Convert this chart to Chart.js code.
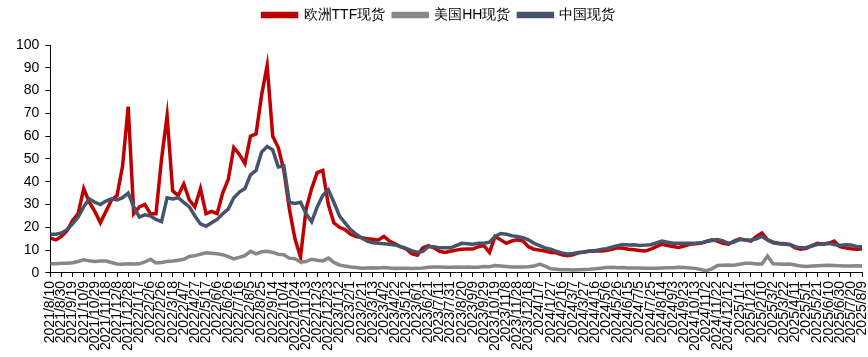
<!DOCTYPE html>
<html><head><meta charset="utf-8">
<script src="https://cdn.jsdelivr.net/npm/chart.js@4/dist/chart.umd.min.js"></script>
<style>html,body{margin:0;padding:0;background:#fff;}canvas{display:block;}</style>
</head><body>
<canvas id="c" width="868" height="357"></canvas>
<script>
// tick labels (every 20 days)
const tickLabels = ["2021/8/10","2021/8/30","2021/9/19","2021/10/9","2021/10/29","2021/11/18","2021/12/8","2021/12/28","2022/1/17","2022/2/6","2022/2/26","2022/3/18","2022/4/7","2022/4/27","2022/5/17","2022/6/6","2022/6/26","2022/7/16","2022/8/5","2022/8/25","2022/9/14","2022/10/4","2022/10/24","2022/11/13","2022/12/3","2022/12/23","2023/1/12","2023/2/1","2023/2/21","2023/3/13","2023/4/2","2023/4/22","2023/5/12","2023/6/1","2023/6/21","2023/7/11","2023/7/31","2023/8/20","2023/9/9","2023/9/29","2023/10/19","2023/11/8","2023/11/28","2023/12/18","2024/1/7","2024/1/27","2024/2/16","2024/3/7","2024/3/27","2024/4/16","2024/5/6","2024/5/26","2024/6/15","2024/7/5","2024/7/25","2024/8/14","2024/9/3","2024/9/23","2024/10/13","2024/11/2","2024/11/22","2024/12/12","2025/1/1","2025/1/21","2025/2/10","2025/3/2","2025/3/22","2025/4/11","2025/5/1","2025/5/21","2025/6/10","2025/6/30","2025/7/20","2025/8/9"];

// values sampled every 10 days (two samples per tick label)
const ttf = [15.3,14.5,16,18.5,23,26,37,31,27,22,27,32,34,47,73,26,29,30,26,26,50,69,36,34,39,32,29,37,26,27,26,35,41,55,52,48,60,61,78,91,60,55,45,28,15,7,28,37,44,45,30,22,20,19,17,16,15.5,15,14.8,14.5,16,14,12.8,11.5,10.5,8.5,7.8,11,12,11,9.5,9,9.5,10,10.4,10.5,10.5,11.5,12,9,16,14.5,13,14,14.5,14,11.5,10.4,10,9.6,9,8.8,8,7.5,8,8.8,9.2,9.6,9.6,9.6,9.8,10.4,11,10.8,10.4,10.2,9.8,9.6,10.4,11.5,12.6,12,11.6,11.2,11.8,12.6,12.8,13,13.8,14.5,14,13,12.6,14,15,14.5,14,16,17.5,14.5,13.5,13,12.8,12.5,11,10.4,10.8,12,13,12.6,13,14,11.5,11,10.6,10.4,10.5];
const hh = [4,4,4.2,4.3,4.5,5,5.8,5.3,5,5.2,5.2,4.6,3.9,3.8,4,3.9,4,4.8,6,4.4,4.6,5,5.2,5.6,6,7.2,7.6,8.2,8.8,8.6,8.4,8,7.2,6.2,6.8,7.6,9.5,8.4,9.3,9.5,9,8.2,8,6.5,6.2,4.8,5,6,5.6,5.3,6.5,4.6,3.5,3,2.6,2.4,2.1,2.2,2.3,2.2,2.4,2.2,2,2.1,2,1.9,2,2.2,2.5,2.6,2.6,2.5,2.5,2.6,2.5,2.6,2.5,2.5,2.8,2.7,3.2,3,2.8,2.6,2.6,2.6,2.7,3,3.9,3,1.8,1.6,1.4,1.4,1.3,1.4,1.5,1.6,1.8,2.1,2.4,2.5,2.3,2.4,2.2,2.2,2.2,2.1,2,2.1,2.2,2.3,2.3,2.5,2.4,2.2,2,1.5,1,1.8,3.3,3.4,3.5,3.4,3.8,4.2,4.2,3.9,3.9,7.4,4,3.9,3.8,3.9,3.5,3,2.8,3,3.2,3.3,3.4,3.3,3.2,3,3,3.1,3];
const china = [17,17,17.5,19,21.5,24.5,29,32.5,31,30,31.5,32.5,32,33,35,29,24.5,25.5,25,23.5,22.5,33,32.5,33,31,29,25,21.5,20.5,22,23.5,26,28,33,35.5,37,43,45,53,55.5,54,46.5,47,31,30.5,31,26,22.5,29,34,36.5,31,25,22,19,17,15.3,14,13.2,13,12.8,12.6,12.3,11.5,10.8,9.8,9,9.5,11.5,11.5,11,11,11,12,13,12.8,12.6,13,13,13.5,16,17.3,17,16.3,16,15.5,14.5,13,12,11,10.4,9.5,8.8,8.3,8.5,9,9.2,9.5,9.8,10.3,10.6,11.3,12,12.5,12.3,12.4,12,12.2,12.4,13.2,14,13.5,13,13,13,13,13,13.2,13.8,14.2,14.7,14,13,13.5,14.7,14.5,14.3,15,16,14.5,13.2,12.8,12.6,12.5,11.5,11,11.2,11.8,12.5,12.8,13,12.5,12,12.4,12.3,11.6,11.5];
const seriesNames = ["欧洲TTF现货","美国HH现货","中国现货"];

const toPts = arr => arr.map((v,i)=>({x:i,y:v}));
const FONT = "'Liberation Sans', Arial, sans-serif";

const legendMargin = {
  id:'legendMargin',
  beforeInit(chart){
    const fit = chart.legend.fit;
    chart.legend.fit = function(){ fit.bind(chart.legend)(); this.height += 13; };
  }
};

new Chart(document.getElementById('c'), {
  type:'line',
  data:{datasets:[
    {label:seriesNames[0], data:toPts(ttf), borderColor:'#C00000', backgroundColor:'#C00000', borderWidth:3.5, pointRadius:0, order:3},
    {label:seriesNames[1], data:toPts(hh), borderColor:'#878787', backgroundColor:'#878787', borderWidth:3.5, pointRadius:0, order:2},
    {label:seriesNames[2], data:toPts(china), borderColor:'#44546A', backgroundColor:'#44546A', borderWidth:3.5, pointRadius:0, order:1}
  ]},
  options:{
    responsive:false, animation:false, devicePixelRatio:1,
    layout:{padding:{left:10,right:0,top:0,bottom:2}},
    plugins:{
      tooltip:{enabled:false},
      legend:{position:'top',
        labels:{boxWidth:34, boxHeight:3, padding:8, color:'#000', font:{family:FONT,size:14},
          sort:(a,b)=>a.datasetIndex-b.datasetIndex}}
    },
    scales:{
      x:{type:'linear', min:0, max:146,
        afterFit:(s)=>{ s.paddingRight = 6; },
        grid:{display:true, drawOnChartArea:false, drawTicks:true, tickLength:4, tickColor:'#000'},
        border:{display:true, color:'#000', width:1},
        ticks:{stepSize:2, autoSkip:false, maxRotation:90, minRotation:90, color:'#000', padding:4,
          font:{family:FONT,size:14},
          callback:(v)=> (v%2===0 ? tickLabels[v/2] : '')}
      },
      y:{min:0, max:100,
        grid:{display:true, drawOnChartArea:false, drawTicks:true, tickLength:5, tickColor:'#000'},
        border:{display:true, color:'#000', width:1},
        ticks:{stepSize:10, color:'#000', padding:6, font:{family:FONT,size:14}}
      }
    }
  },
  plugins:[legendMargin]
});
</script>
</body></html>
